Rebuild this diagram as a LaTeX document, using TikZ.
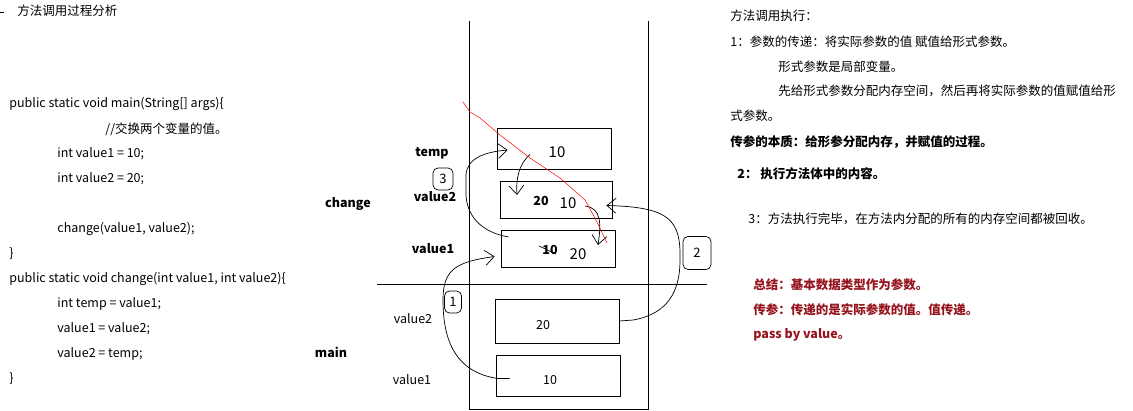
\documentclass[tikz,border=0pt]{standalone}
\usepackage{fontspec}
\setmainfont{Noto Sans CJK SC}
\usetikzlibrary{arrows.meta}
\definecolor{sumred}{RGB}{150,20,30}

\begin{document}
\begin{tikzpicture}[x=1pt, y=-1pt, line width=0.8pt,
    txt/.style={anchor=west, inner sep=0pt, font=\fontsize{12.5}{14}\selectfont},
    lbl/.style={inner sep=0pt, font=\fontsize{12.5}{14}\selectfont\bfseries},
    cell/.style={draw, inner sep=0pt},
    hand/.style={line width=0.7pt, -{Straight Barb[length=9pt, width=15pt]}},
    scrawl/.style={inner sep=0pt, font=\fontsize{15}{15}\selectfont},
    loopnum/.style={draw, line width=0.7pt, rounded corners=5pt, inner sep=0pt, font=\fontsize{13}{13}\selectfont}]
  \useasboundingbox (0,0) rectangle (1133,411);
  % code
  \draw (0,12) -- (4,12);
  \node [txt] (title) at (17,11)  {方法调用过程分析};
  \node [txt] (c1)    at (9,104)  {public static void main(String[] args)\{};
  \node [txt] (c2)    at (105,129) {//交换两个变量的值。};
  \node [txt] (c3)    at (57,154) {int value1 = 10;};
  \node [txt] (c4)    at (57,179) {int value2 = 20;};
  \node [txt] (c5)    at (57,229) {change(value1, value2);};
  \node [txt] (c6)    at (9,254)  {\}};
  \node [txt] (c7)    at (9,279)  {public static void change(int value1, int value2)\{};
  \node [txt] (c8)    at (57,304) {int temp = value1;};
  \node [txt] (c9)    at (57,329) {value1 = value2;};
  \node [txt] (c10)   at (57,354) {value2 = temp;};
  \node [txt] (c11)   at (9,379)  {\}};
  % stack
  \draw (469,21) -- (469,409) -- (648,409) -- (648,21);
  \draw (377,284) -- (707,284);
  \node [lbl] (change) at (348,204) {change};
  \node [lbl] (main)   at (331,352) {main};
  % F change
  \node [cell, minimum width=114, minimum height=41] (temp) at (554,148.5) {};
  \node [cell, minimum width=112, minimum height=37] (cv2)  at (556,199.5) {};
  \node [cell, minimum width=114, minimum height=37] (cv1)  at (558,248.5) {};
  \node [lbl] (ltemp) at (432,153) {temp};
  \node [lbl] (lcv2)  at (435,197) {value2};
  \node [lbl] (lcv1)  at (433,249) {value1};
  \node [lbl] (ncv2)  at (541,201) {20};
  \node [lbl] (ncv1)  at (550,250) {10};
  % F main
  \node [cell, minimum width=124, minimum height=44] (mv2) at (557,321) {};
  \node [cell, minimum width=124, minimum height=41] (mv1) at (558,375.5) {};
  \node [txt, anchor=center] (lmv2) at (413,319) {value2};
  \node [txt, anchor=center] (lmv1) at (412,380) {value1};
  \node [txt, anchor=center] (nmv2) at (543,325) {20};
  \node [txt, anchor=center] (nmv1) at (550,380) {10};
  % scrawls
  \node [scrawl] (stemp) at (557,152) {10};
  \node [scrawl] (scv2)  at (568,203) {10};
  \node [scrawl] (scv1)  at (578,254) {20};
  \draw [line width=0.7pt] (539,246) -- (556,254);
  \node [loopnum, minimum width=20, minimum height=22] (n3) at (443,179) {3};
  \node [loopnum, minimum width=28, minimum height=33] (n2) at (697,253) {2};
  \node [loopnum, minimum width=17, minimum height=22] (n1) at (453,302) {1};
  % steps
  \draw [hand] ([shift={(14,3)}]mv1.west) -- ++(-12,0)
      .. controls (455,372) and (443,340) .. (443,300)
      .. controls (443,270) and (455,262) .. ([shift={(-6,8)}]cv1.west);
  \draw [hand] (mv2.east) -- ++(14,-1)
      .. controls (660,315) and (680,300) .. (680,260)
      .. controls (681,220) and (670,207) .. ([shift={(-6,6)}]cv2.east);
  \draw [hand] ([shift={(8,-11.5)}]cv1.west)
      .. controls (480,232) and (467,215) .. (466,195) -- (466,175)
      .. controls (467,158) and (485,152) .. ([shift={(11,1.5)}]temp.west);
  \draw [hand] ([shift={(-24,6)}]temp.center)
      .. controls (518,165) and (516,180) .. ([shift={(-39,-4.5)}]cv2.center);
  \draw [hand] ([shift={(29,6.5)}]cv2.center)
      .. controls (602,208) and (601,225) .. ([shift={(40,-3.5)}]cv1.center);
  % cross-out
  \draw [red, line width=0.5pt] (463,102) -- (470,112) -- (480,118) -- (500,135)
      -- (530,158) -- (560,178) -- (585,200) -- (595,218) -- (607,243);
  % notes
  \node [txt] (h0) at (730,16)  {方法调用执行：};
  \node [txt] (h1) at (730,42)  {1：参数的传递：将实际参数的值 赋值给形式参数。};
  \node [txt] (h2) at (778,67)  {形式参数是局部变量。};
  \node [txt] (h3) at (778,91)  {先给形式参数分配内存空间，然后再将实际参数的值赋值给形};
  \node [txt] (h4) at (730,116) {式参数。};
  \node [txt, font=\fontsize{12.5}{14}\selectfont\bfseries] (h5) at (730,142) {传参的本质：给形参分配内存，并赋值的过程。};
  \node [txt, font=\fontsize{12.5}{14}\selectfont\bfseries] (h6) at (737,174) {2： 执行方法体中的内容。};
  \node [txt] (h7) at (748,219) {3：方法执行完毕，在方法内分配的所有的内存空间都被回收。};
  \node [txt, text=sumred, font=\fontsize{12.5}{14}\selectfont\bfseries] (s1) at (753,285) {总结：基本数据类型作为参数。};
  \node [txt, text=sumred, font=\fontsize{12.5}{14}\selectfont\bfseries] (s2) at (753,310) {传参：传递的是实际参数的值。值传递。};
  \node [txt, text=sumred, font=\fontsize{12.5}{14}\selectfont\bfseries] (s3) at (753,335) {pass by value。};
\end{tikzpicture}
\end{document}
